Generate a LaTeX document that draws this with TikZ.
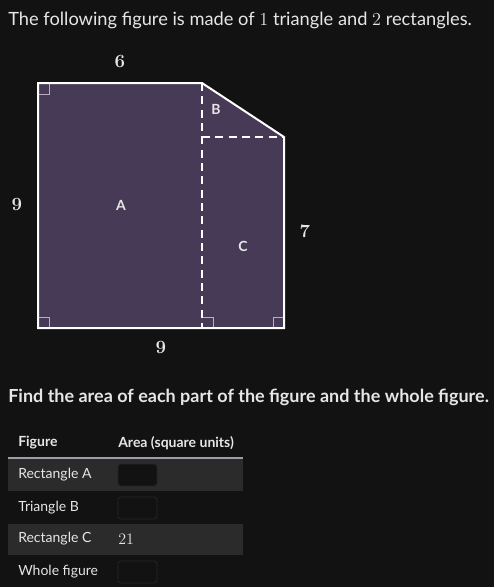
\documentclass[tikz,border=0pt]{standalone}
\usepackage{fontspec}
\setmainfont{Lato}
\newfontfamily\lmserif{Latin Modern Roman}
\usepackage{tikz}

\definecolor{bgdark}{HTML}{121212}
\definecolor{rowgray}{HTML}{2B2B2B}
\definecolor{shapefill}{HTML}{473A56}
\definecolor{inktext}{HTML}{E6E6E6}
\definecolor{marklines}{HTML}{B9AEC6}
\definecolor{boxline}{HTML}{262626}

\tikzset{
  sidelabel/.style={text=inktext, font=\lmserif\bfseries\fontsize{14}{16}\selectfont},
  partlabel/.style={text=inktext, font=\bfseries\fontsize{10.5}{12}\selectfont},
  cellfont/.style={text=inktext, anchor=west, inner sep=0pt, font=\fontsize{10.5}{12}\selectfont},
  inbox/.style={draw=boxline, rounded corners=2pt, line width=0.6pt},
  rightmark/.style={draw=marklines, line width=0.5pt},
}

\begin{document}
\begin{tikzpicture}[x=0.75pt, y=-0.75pt]
        \fill[bgdark] (0, 0) rectangle (494, 587);
        \useasboundingbox (0, 0) rectangle (494, 587);

        \node[anchor=west, inner sep=0pt, text=inktext, font=\fontsize{13.7}{16}\selectfont] (title) at (8, 20)
            {The following figure is made of {\lmserif 1} triangle and {\lmserif 2} rectangles.};

        % corners of the figure
        \coordinate (TL) at (38, 83);
        \coordinate (TM) at (202, 83);
        \coordinate (TR) at (284, 137);
        \coordinate (MM) at (202, 137);
        \coordinate (BR) at (284, 328);
        \coordinate (BM) at (202, 328);
        \coordinate (BL) at (38, 328);

        \fill[shapefill] (TL) -- (TM) -- (TR) -- (BR) -- (BL) -- cycle;

        \draw[rightmark] (38, 94) -- (49, 94) -- (49, 83);
        \draw[rightmark] (38, 317) -- (49, 317) -- (49, 328);
        \draw[rightmark] (202, 317) -- (213, 317) -- (213, 328);
        \draw[rightmark] (284, 317) -- (273, 317) -- (273, 328);

        \draw[white, line width=1.5pt, dash pattern=on 6pt off 4pt] (TM) -- (BM);
        \draw[white, line width=1.5pt, dash pattern=on 6pt off 4pt] (MM) -- (TR);

        \draw[white, line width=1.5pt, line join=miter] (TL) -- (TM) -- (TR) -- (BR) -- (BL) -- cycle;

        \node[sidelabel] (top) at (120, 61) {6};
        \node[sidelabel] (left) at (17, 204) {9};
        \node[sidelabel] (right) at (305, 231) {7};
        \node[sidelabel] (bottom) at (161, 347) {9};

        \node[partlabel] (A) at (121, 205) {A};
        \node[partlabel] (B) at (216, 109) {B};
        \node[partlabel] (C) at (243, 246) {C};

        \node[anchor=west, inner sep=0pt, text=inktext, font=\bfseries\fontsize{13.5}{16}\selectfont] (task) at (8, 397)
            {Find the area of each part of the figure and the whole figure.};

        % table
        \fill[rowgray] (8, 459) rectangle (243, 491);
        \fill[rowgray] (8, 524) rectangle (243, 555);
        \draw[marklines!60!gray, line width=1.5pt] (8, 458) -- (243, 458);

        \node[cellfont, font=\bfseries\fontsize{10.5}{12}\selectfont] (h1) at (18, 443) {Figure};
        \node[cellfont, font=\bfseries\fontsize{10.5}{12}\selectfont] (h2) at (118, 443) {Area (square units)};

        \node[cellfont] (r1) at (18, 475) {Rectangle A};
        \node[cellfont] (r2) at (18, 508) {Triangle B};
        \node[cellfont] (r3) at (18, 539) {Rectangle C};
        \node[cellfont] (r4) at (18, 572) {Whole figure};

        \fill[bgdark, inbox] (118, 464) rectangle (157, 486);
        \draw[inbox] (118, 497) rectangle (157, 519);
        \node[cellfont, font=\lmserif\fontsize{12}{14}\selectfont] (v3) at (118, 539) {21};
        \draw[inbox] (118, 561) rectangle (157, 583);
\end{tikzpicture}
\end{document}
